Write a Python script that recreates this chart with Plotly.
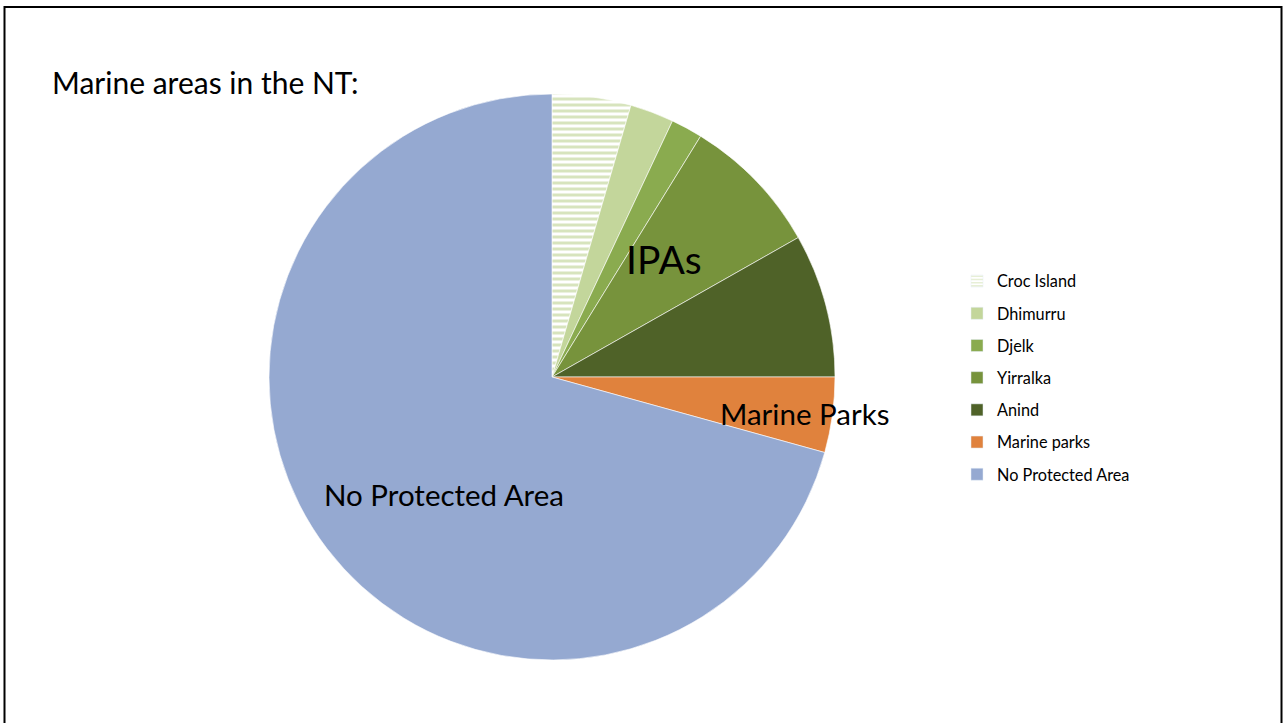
import plotly.graph_objects as go

labels = ["Croc Island", "Dhimurru", "Djelk", "Yirralka", "Anind", "Marine parks", "No Protected Area"]
values = [4.5, 2.5, 1.8, 8.0, 8.2, 4.3, 70.7]
colors = ["#d7e4bd", "#c3d69b", "#8aab4f", "#77933c", "#4f6228", "#e0823d", "#95a9d1"]
patterns = ["-", "", "", "", "", "", ""]

W, H = 1284, 723
FONT = "Lato"

fig = go.Figure()
fig.add_trace(go.Pie(
    labels=labels, values=values, sort=False, direction="clockwise", rotation=0,
    marker=dict(colors=colors, line=dict(color="white", width=0.6),
                pattern=dict(shape=patterns, fgcolor="#d7e4bd", bgcolor="white", size=6, solidity=0.5)),
    textinfo="none", hoverinfo="label+value", showlegend=False,
    domain=dict(x=[269 / W, 835 / W], y=[1 - 660 / H, 1 - 94 / H]),
))

# legend entries (one per category)
for i, (lab, col) in enumerate(zip(labels, colors)):
    pat = dict(shape=patterns[i], fgcolor="#cfdfae", bgcolor="white", size=4, solidity=0.5) if patterns[i] else None
    fig.add_trace(go.Bar(x=[None], y=[None], name=lab, legendgroup=lab,
                         marker=dict(color=col, pattern=pat) if pat else dict(color=col),
                         showlegend=True))

fig.update_layout(
    width=W, height=H, margin=dict(l=0, r=0, t=0, b=0),
    paper_bgcolor="white", plot_bgcolor="white",
    xaxis=dict(visible=False), yaxis=dict(visible=False),
    font=dict(family=FONT, color="black"),
    legend=dict(x=957 / W, y=1 - 264 / H, xanchor="left", yanchor="top",
                font=dict(size=16.3, family=FONT), tracegroupgap=8, itemwidth=30,
                bgcolor="rgba(0,0,0,0)"),
    showlegend=True,
    annotations=[
        dict(text="Marine areas in the NT:", x=50 / W, y=1 - 82 / H, xref="paper", yref="paper",
             xanchor="left", yanchor="middle", showarrow=False, font=dict(size=30, family=FONT)),
        dict(text="IPAs", x=664 / W, y=1 - 259 / H, xref="paper", yref="paper",
             xanchor="center", yanchor="middle", showarrow=False, font=dict(size=39, family=FONT)),
        dict(text="Marine Parks", x=804 / W, y=1 - 413 / H, xref="paper", yref="paper",
             xanchor="center", yanchor="middle", showarrow=False, font=dict(size=29.5, family=FONT)),
        dict(text="No Protected Area", x=444 / W, y=1 - 494 / H, xref="paper", yref="paper",
             xanchor="center", yanchor="middle", showarrow=False, font=dict(size=29.5, family=FONT)),
    ],
    shapes=[
        dict(type="path", xref="paper", yref="paper",
             path=f"M {4.5 / W} 0 L {4.5 / W} {1 - 7 / H} L {1281.5 / W} {1 - 7 / H} L {1281.5 / W} 0",
             line=dict(color="black", width=2)),
    ],
)

fig.write_html("out.html", config={"displayModeBar": False},
               post_script="document.body.style.margin='0';")
